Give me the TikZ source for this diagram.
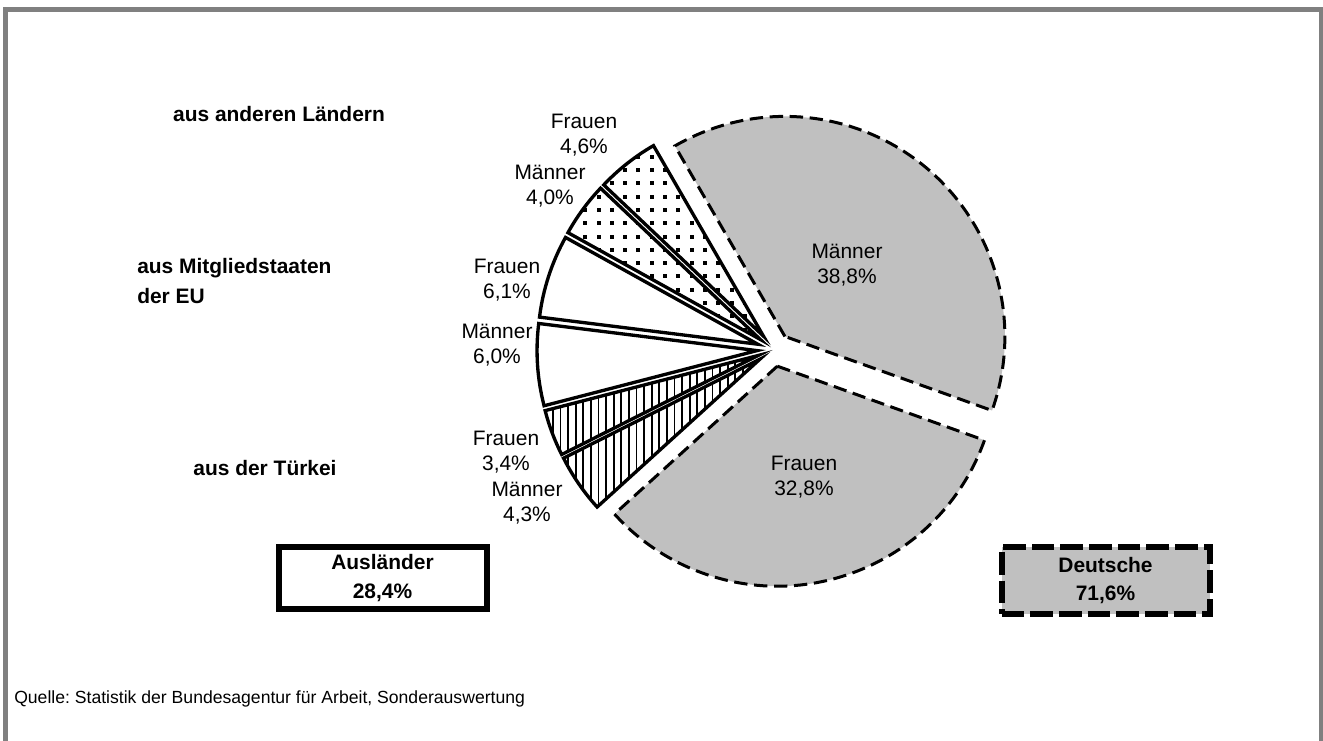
\documentclass[tikz,border=0pt]{standalone}
\usepackage{fontspec}
\setmainfont{Liberation Sans}
\usetikzlibrary{calc}
\frenchspacing

\definecolor{piegray}{RGB}{192,192,192}
\definecolor{framegray}{RGB}{128,128,128}

% exploded slice from start angle #1 clockwise to end angle #2
\newcommand{\pieslice}[2]{($(ctr)+({(#1+#2)/2}:17)$) -- ++(#1:220) arc[start angle=#1, end angle=#2, radius=220] -- cycle}

\begin{document}
\begin{tikzpicture}[x=0.75pt, y=0.75pt,
        german/.style={fill=piegray, draw, line width=2.25pt, dash pattern=on 10pt off 5pt},
        foreign/.style={draw, line width=2.5pt},
        lbl/.style={align=center, inner sep=0pt, font=\fontsize{15.7}{18.5}\selectfont},
        grouplabel/.style={align=left, inner sep=0pt, font=\fontsize{15.7}{22}\selectfont\bfseries},
        sumbox/.style={draw, line width=4.5pt, minimum width=156pt, minimum height=46.5pt, align=center, font=\fontsize{15.7}{21.5}\selectfont\bfseries}
    ]
    \useasboundingbox (0,0) rectangle (1323,740);
    \draw[framegray, line width=3.75pt] (5.5,-10) -- (5.5,730) -- (1321.5,730) -- (1321.5,-10);

    \coordinate (ctr) at (774,390.5);

    % Deutsche
    \draw[german] \pieslice{120}{-19.68};
    \draw[german] \pieslice{-19.68}{-137.76};

    % aus der Tuerkei
    \foreach \a/\b in {-137.76/-153.24, -153.24/-165.48} {
        \fill[white] \pieslice{\a}{\b};
        \begin{scope}
            \clip \pieslice{\a}{\b};
            \foreach \x in {530,537.6,...,780} \draw[line width=1.35pt] (\x,190) -- (\x,400);
        \end{scope}
        \draw[foreign] \pieslice{\a}{\b};
    }

    % aus Mitgliedstaaten der EU
    \foreach \a/\b in {-165.48/-187.08, -187.08/-209.04}
        \draw[foreign, fill=white] \pieslice{\a}{\b};

    % aus anderen Laendern
    \foreach \a/\b in {-209.04/-223.44, -223.44/-240} {
        \fill[white] \pieslice{\a}{\b};
        \begin{scope}
            \clip \pieslice{\a}{\b};
            \foreach \x in {530,543.3,...,780}
                \foreach \y in {395,408.3,...,640}
                    \fill (\x,\y) rectangle ++(4,4);
        \end{scope}
        \draw[foreign] \pieslice{\a}{\b};
    }

    % slice labels
    \node[lbl] (dm) at (847,475) {Männer\\38,8\%};
    \node[lbl] (df) at (804,263) {Frauen\\32,8\%};
    \node[lbl] (tm) at (527,237) {Männer\\4,3\%};
    \node[lbl] (tf) at (506,288) {Frauen\\3,4\%};
    \node[lbl] (em) at (497,395) {Männer\\6,0\%};
    \node[lbl] (ef) at (507,460) {Frauen\\6,1\%};
    \node[lbl] (am) at (550,554) {Männer\\4,0\%};
    \node[lbl] (af) at (584,605) {Frauen\\4,6\%};

    % group labels
    \node[grouplabel] (andere) at (279,626) {aus anderen Ländern};
    \node[grouplabel, anchor=west] (eu) at (137,459) {aus Mitgliedstaaten\\der EU};
    \node[grouplabel] (tuerkei) at (265,272) {aus der Türkei};

    % totals
    \node[sumbox] (auslaender) at (382.5,162) {Ausländer\\28,4\%};
    \node[sumbox, fill=piegray, dash pattern=on 17pt off 4.5pt, minimum height=50pt] (deutsche) at (1105.5,159.5) {Deutsche\\71,6\%};

    \node[anchor=base west, inner sep=0pt, font=\fontsize{13.2}{15}\selectfont] (quelle) at (14,37) {Quelle: Statistik der Bundesagentur für Arbeit, Sonderauswertung};
\end{tikzpicture}
\end{document}
